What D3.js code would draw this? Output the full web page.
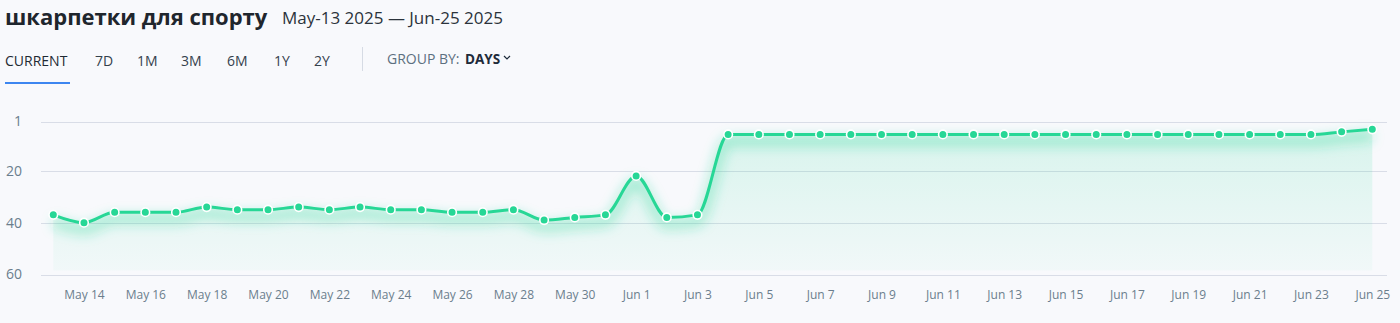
<!DOCTYPE html>
<html>
<head>
<meta charset="utf-8">
<script src="https://cdn.jsdelivr.net/npm/d3@7/dist/d3.min.js"></script>
<style>
  html, body { margin: 0; padding: 0; background: #f8f9fc; }
  svg { display: block; font-family: "Open Sans", "Noto Sans", sans-serif; }
</style>
</head>
<body>
<svg id="chart" width="1400" height="323"></svg>
<script>
// Daily search position (rank, lower is better)
const days = [
  "2025-05-13","2025-05-14","2025-05-15","2025-05-16","2025-05-17","2025-05-18",
  "2025-05-19","2025-05-20","2025-05-21","2025-05-22","2025-05-23","2025-05-24",
  "2025-05-25","2025-05-26","2025-05-27","2025-05-28","2025-05-29","2025-05-30",
  "2025-05-31","2025-06-01","2025-06-02","2025-06-03","2025-06-04","2025-06-05",
  "2025-06-06","2025-06-07","2025-06-08","2025-06-09","2025-06-10","2025-06-11",
  "2025-06-12","2025-06-13","2025-06-14","2025-06-15","2025-06-16","2025-06-17",
  "2025-06-18","2025-06-19","2025-06-20","2025-06-21","2025-06-22","2025-06-23",
  "2025-06-24","2025-06-25"
];
const positions = [
  37, 40, 36, 36, 36, 34,
  35, 35, 34, 35, 34, 35,
  35, 36, 36, 35, 39, 38,
  37, 22, 38, 37, 6, 6,
  6, 6, 6, 6, 6, 6,
  6, 6, 6, 6, 6, 6,
  6, 6, 6, 6, 6, 6,
  5, 4
];
const yTicks = [1, 20, 40, 60];
const periodTabs = ["CURRENT", "7D", "1M", "3M", "6M", "1Y", "2Y"];
const titleText = "шкарпетки для спорту";
const rangeText = "May-13 2025 — Jun-25 2025";

const parse = d3.timeParse("%Y-%m-%d");
const data = days.map((d, i) => ({ date: parse(d), pos: positions[i] }));

const svg = d3.select("#chart");
const green = "#27d796";

// ---- header ----
svg.append("text").attr("x", 5).attr("y", 25)
  .attr("font-size", 22).attr("font-weight", 700).attr("fill", "#1f262d")
  .text(titleText);
svg.append("text").attr("x", 282).attr("y", 24)
  .attr("font-size", 17).attr("fill", "#2b333b")
  .text(rangeText);

const tabX = [5, 95, 137, 181, 227, 274, 314];
periodTabs.forEach((t, i) => {
  svg.append("text").attr("x", tabX[i]).attr("y", 66)
    .attr("font-size", 14).attr("fill", i === 0 ? "#1f2a33" : "#34414c")
    .text(t);
});
svg.append("rect").attr("x", 5).attr("y", 82).attr("width", 65).attr("height", 2)
  .attr("fill", "#3d86f0");
svg.append("line").attr("x1", 362.5).attr("x2", 362.5).attr("y1", 47).attr("y2", 71)
  .attr("stroke", "#d6dbe4");
svg.append("text").attr("x", 387).attr("y", 64)
  .attr("font-size", 14).attr("fill", "#5d7080").text("GROUP BY:");
svg.append("text").attr("x", 465).attr("y", 64)
  .attr("font-size", 13.5).attr("font-weight", 700).attr("fill", "#1e2b3a").text("DAYS");
svg.append("path").attr("d", "M504,56 L507,59 L510,56")
  .attr("fill", "none").attr("stroke", "#1e2b3a").attr("stroke-width", 1.2);

// ---- scales ----
const x = d3.scaleTime()
  .domain([parse("2025-05-13"), parse("2025-06-25")])
  .range([53.3, 1372.3]);
const y = d3.scaleLinear().domain([1, 60]).range([121.5, 274.5]);
const gridLeft = 41, gridRight = 1387;

// ---- grid ----
const grid = svg.append("g");
yTicks.forEach(t => {
  grid.append("line")
    .attr("x1", gridLeft).attr("x2", gridRight)
    .attr("y1", Math.round(y(t)) + 0.5).attr("y2", Math.round(y(t)) + 0.5)
    .attr("stroke", "#d9dde7").attr("stroke-width", 1.2);
});

// y axis labels
const yAxis = d3.axisLeft(y).tickValues(yTicks).tickSize(0).tickPadding(0);
const gy = svg.append("g").attr("transform", "translate(22,0)").call(yAxis);
gy.select(".domain").remove();
gy.selectAll("text").attr("font-size", 14).attr("fill", "#6b7e8d")
  .attr("font-family", "'Open Sans', sans-serif");

// x axis labels every 2 days
const xAxis = d3.axisBottom(x)
  .tickValues(d3.timeDay.range(parse("2025-05-14"), parse("2025-06-26"), 2))
  .tickFormat(d3.timeFormat("%b %-d")).tickSize(0).tickPadding(0);
const gx = svg.append("g").attr("transform", "translate(0,290)").call(xAxis);
gx.select(".domain").remove();
gx.selectAll("text").attr("font-size", 12).attr("fill", "#6b7e8d")
  .attr("font-family", "'Open Sans', sans-serif");

// ---- defs ----
const defs = svg.append("defs");
const grad = defs.append("linearGradient").attr("id", "areaFill")
  .attr("gradientUnits", "userSpaceOnUse")
  .attr("x1", 0).attr("x2", 0).attr("y1", y(1)).attr("y2", y(60));
grad.append("stop").attr("offset", 0).attr("stop-color", green).attr("stop-opacity", 0.16);
grad.append("stop").attr("offset", 1).attr("stop-color", green).attr("stop-opacity", 0.03);
defs.append("filter").attr("id", "glow")
  .attr("x", "-5%").attr("y", "-50%").attr("width", "110%").attr("height", "200%")
  .append("feGaussianBlur").attr("stdDeviation", 6);

const curve = d3.curveMonotoneX;
const area = d3.area().x(d => x(d.date)).y0(y(58.5)).y1(d => y(d.pos)).curve(curve);
const line = d3.line().x(d => x(d.date)).y(d => y(d.pos)).curve(curve);

svg.append("path").datum(data).attr("d", area).attr("fill", "url(#areaFill)");

// soft glow under the line
svg.append("path").datum(data).attr("d", line)
  .attr("transform", "translate(0,7)")
  .attr("fill", "none").attr("stroke", green).attr("stroke-width", 10)
  .attr("stroke-opacity", 0.35).attr("filter", "url(#glow)");

svg.append("path").datum(data).attr("d", line)
  .attr("fill", "none").attr("stroke", green).attr("stroke-width", 3)
  .attr("stroke-linejoin", "round");

svg.append("g").selectAll("circle").data(data).join("circle")
  .attr("cx", d => x(d.date)).attr("cy", d => y(d.pos)).attr("r", 4.3)
  .attr("fill", green).attr("stroke", "#ffffff").attr("stroke-width", 1.6);
</script>
</body>
</html>
